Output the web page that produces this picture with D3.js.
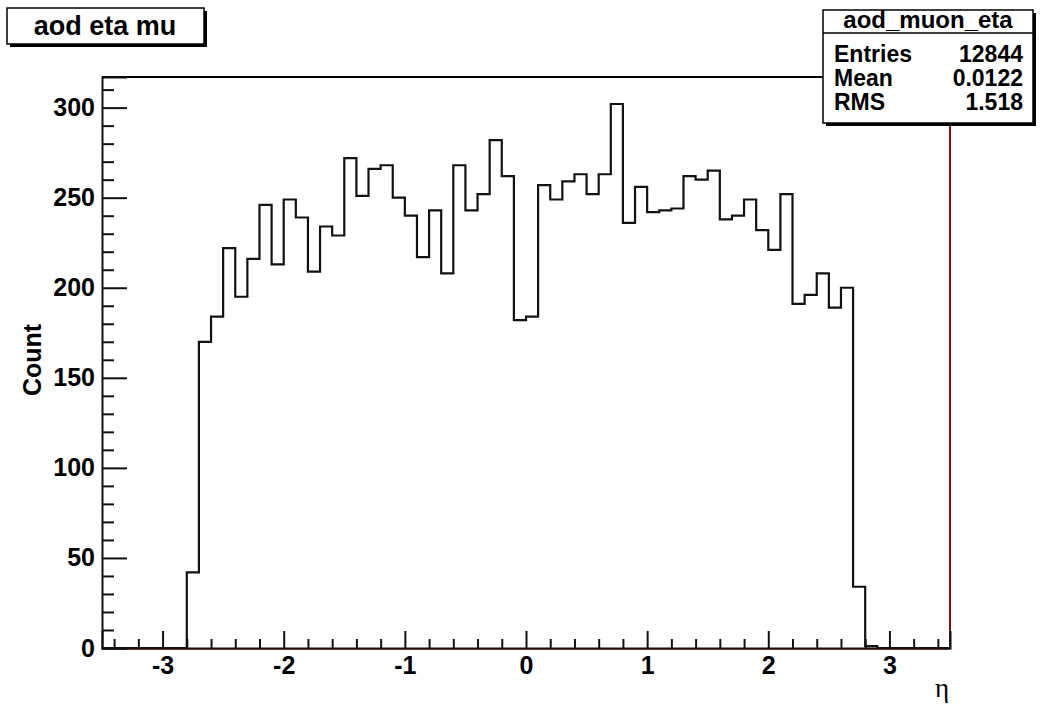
<!DOCTYPE html>
<html>
<head>
<meta charset="utf-8">
<script src="https://cdn.jsdelivr.net/npm/d3@7"></script>
<style>
  body { margin: 0; background: #fff; }
  svg text { font-family: "Liberation Sans", Arial, sans-serif; font-weight: bold; fill: #000; }
</style>
</head>
<body>
<div id="chart"></div>
<script>
// histogram binning (70 bins of 0.1 from -3.5 to 3.5)
var xMin = -3.5;
var xMax = 3.5;
var binWidth = 0.1;

// bin contents, left to right
var counts = [
  0, 0, 0, 0, 0, 0, 0,
  42, 170, 184, 222, 195, 216, 246, 213, 249, 239,
  209, 234, 229, 272, 251, 266, 268, 250, 240, 217,
  243, 208, 268, 243, 252, 282, 262, 182, 184, 257,
  249, 259, 263, 252, 263, 302, 236, 256, 242, 243,
  244, 262, 260, 265, 238, 240, 249, 232, 221, 252,
  191, 196, 208, 189, 200, 34, 1,
  0, 0, 0, 0, 0, 0
];

var xMajorTicks = [-3, -2, -1, 0, 1, 2, 3];
var xMinorTicks = [-3.4, -3.2, -2.8, -2.6, -2.4, -2.2, -1.8, -1.6, -1.4, -1.2, -0.8, -0.6, -0.4, -0.2,
  0.2, 0.4, 0.6, 0.8, 1.2, 1.4, 1.6, 1.8, 2.2, 2.4, 2.6, 2.8, 3.2, 3.4];
var yMajorTicks = [0, 50, 100, 150, 200, 250, 300];
var yMinorTicks = [10, 20, 30, 40, 60, 70, 80, 90, 110, 120, 130, 140, 160, 170, 180, 190,
  210, 220, 230, 240, 260, 270, 280, 290, 310];

var histTitle = 'aod eta mu';
var statsName = 'aod_muon_eta';
var statsRows = [['Entries', '12844'], ['Mean', '0.0122'], ['RMS', '1.518']];

var width = 1041;
var height = 709;
var frame = { left: 102, right: 950, top: 77, bottom: 648 };
var yMax = 317;

var svg = d3.select('#chart')
  .append('svg')
  .attr('width', width)
  .attr('height', height);

var x = d3.scaleLinear().domain([xMin, xMax]).range([frame.left, frame.right]);
var y = d3.scaleLinear().domain([0, yMax]).range([frame.bottom, frame.top]);

// frame
svg.append('line')
  .attr('x1', frame.left).attr('x2', frame.right)
  .attr('y1', frame.top).attr('y2', frame.top)
  .attr('stroke', '#000').attr('stroke-width', 2);
svg.append('line')
  .attr('x1', frame.right).attr('x2', frame.right)
  .attr('y1', frame.top).attr('y2', frame.bottom)
  .attr('stroke', '#7a1010').attr('stroke-width', 2);
svg.append('line')
  .attr('x1', frame.left).attr('x2', frame.right)
  .attr('y1', frame.bottom + 1).attr('y2', frame.bottom + 1)
  .attr('stroke', '#b02020').attr('stroke-width', 1.5);

// histogram outline
var pts = [[xMin, 0]];
counts.forEach(function (c, i) {
  var x0 = xMin + i * binWidth;
  pts.push([x0, c]);
  pts.push([x0 + binWidth, c]);
});
pts.push([xMax, 0]);

svg.append('path')
  .datum(pts)
  .attr('fill', 'none')
  .attr('stroke', '#111')
  .attr('stroke-width', 2.2)
  .attr('d', d3.line()
    .x(function (d) { return x(d[0]); })
    .y(function (d) { return y(d[1]); }));

// x axis
svg.append('g')
  .attr('transform', 'translate(0,' + frame.bottom + ')')
  .call(d3.axisBottom(x).tickValues(xMajorTicks).tickSize(-17).tickPadding(8)
    .tickFormat(function (d) { return d; }));
svg.append('g')
  .attr('transform', 'translate(0,' + frame.bottom + ')')
  .call(d3.axisBottom(x).tickValues(xMinorTicks).tickSize(-9).tickFormat(''))
  .select('.domain').remove();

// y axis
svg.append('g')
  .attr('transform', 'translate(' + frame.left + ',0)')
  .call(d3.axisLeft(y).tickValues(yMajorTicks).tickSize(-25).tickPadding(7));
svg.append('g')
  .attr('transform', 'translate(' + frame.left + ',0)')
  .call(d3.axisLeft(y).tickValues(yMinorTicks).tickSize(-12).tickFormat(''))
  .select('.domain').remove();

svg.selectAll('.tick line').attr('stroke', '#111').attr('stroke-width', 2);
svg.selectAll('.domain').attr('stroke', '#111').attr('stroke-width', 2);
svg.selectAll('.tick text')
  .attr('font-size', 25)
  .attr('font-family', '"Liberation Sans", Arial, sans-serif')
  .attr('font-weight', 'bold');

// axis titles
svg.append('text')
  .attr('transform', 'translate(41,360) rotate(-90)')
  .attr('text-anchor', 'middle')
  .attr('font-size', 25)
  .text('Count');

svg.append('text')
  .attr('x', frame.right - 1)
  .attr('y', 697)
  .attr('text-anchor', 'end')
  .attr('font-size', 27)
  .style('font-family', '"Liberation Serif", "DejaVu Serif", serif')
  .style('font-weight', 'normal')
  .text('η');

// title box
svg.append('rect')
  .attr('x', 10).attr('y', 11).attr('width', 197).attr('height', 36)
  .attr('fill', '#000');
svg.append('rect')
  .attr('x', 7).attr('y', 8).attr('width', 197).attr('height', 36)
  .attr('fill', '#fff').attr('stroke', '#000').attr('stroke-width', 1.5);
svg.append('text')
  .attr('x', 105).attr('y', 35)
  .attr('text-anchor', 'middle')
  .attr('font-size', 27)
  .text(histTitle);

// stats box
var sx = 823, sy = 10, sw = 210, sh = 113;
svg.append('rect')
  .attr('x', sx + 3).attr('y', sy + 3).attr('width', sw).attr('height', sh)
  .attr('fill', '#000');
svg.append('rect')
  .attr('x', sx).attr('y', sy).attr('width', sw).attr('height', sh)
  .attr('fill', '#fff').attr('stroke', '#000').attr('stroke-width', 1.5);
svg.append('line')
  .attr('x1', sx).attr('x2', sx + sw)
  .attr('y1', 33).attr('y2', 33)
  .attr('stroke', '#000').attr('stroke-width', 1.5);
svg.append('text')
  .attr('x', sx + sw / 2).attr('y', 28)
  .attr('text-anchor', 'middle')
  .attr('font-size', 24)
  .text(statsName);

var rows = svg.selectAll('.stat-row')
  .data(statsRows)
  .enter()
  .append('g')
  .attr('class', 'stat-row');
rows.append('text')
  .attr('x', sx + 11)
  .attr('y', function (d, i) { return 62 + i * 24; })
  .attr('font-size', 23)
  .text(function (d) { return d[0]; });
rows.append('text')
  .attr('x', sx + sw - 10)
  .attr('y', function (d, i) { return 62 + i * 24; })
  .attr('text-anchor', 'end')
  .attr('font-size', 23)
  .text(function (d) { return d[1]; });
</script>
</body>
</html>
